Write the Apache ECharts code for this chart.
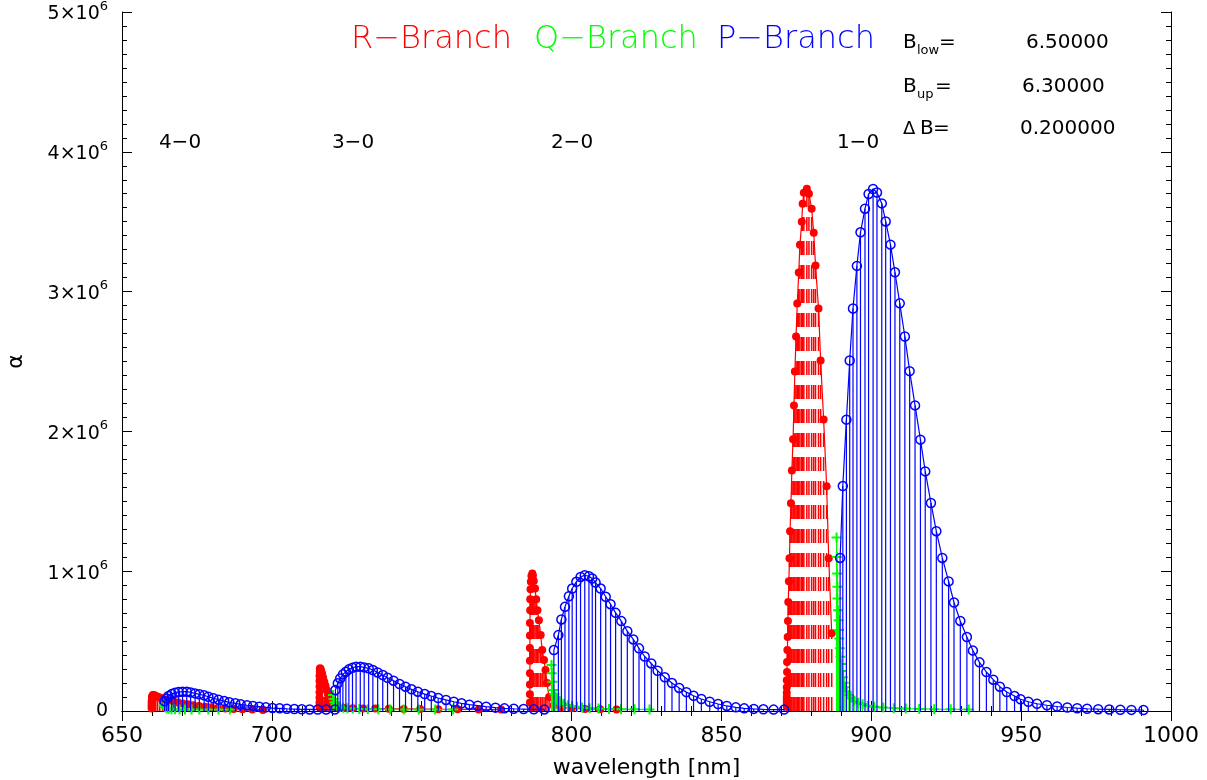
<!DOCTYPE html>
<html><head><meta charset="utf-8">
<script src="https://cdn.jsdelivr.net/npm/echarts@6/dist/echarts.min.js"></script>
<style>html,body{margin:0;padding:0;background:#fff}#c{width:1207px;height:780px}</style>
</head><body><div id="c"></div>
<script>
// wavelength in nm, intensity alpha in units of 10^6
// ---- 1-0 band ----
const P10_x=[889.6,890.5,891.7,892.8,893.9,895.2,896.4,897.9,899.1,900.6,901.9,903.5,904.8,906.4,907.9,909.5,911.2,912.8,914.6,916.4,918.0,919.9,921.7,923.7,925.8,927.6,929.7,931.9,933.9,936.1,938.4,940.7,942.9,945.2,947.8,949.8,952.4,955.3,958.6,962.0,965.4,968.7,972.0,975.7,979.4,983.1,986.8,990.8];
const P10_y=[1.095,1.609,2.084,2.507,2.879,3.184,3.424,3.593,3.698,3.734,3.709,3.631,3.502,3.336,3.138,2.916,2.679,2.431,2.186,1.941,1.714,1.488,1.286,1.095,0.927,0.776,0.644,0.529,0.432,0.348,0.279,0.224,0.174,0.136,0.107,0.084,0.066,0.052,0.041,0.032,0.025,0.020,0.016,0.013,0.011,0.009,0.008,0.007];
const R10_x=[886.8,885.8,885.1,884.1,883.1,882.4,881.4,880.8,880.1,879.2,878.5,877.5,877.1,876.8,876.2,875.8,875.3,874.9,874.5,874.2,873.9,873.5,873.2,872.9,872.7,872.5,872.3,872.2,872.1,872.0,871.9,871.9,871.8,871.8,871.8,871.8,871.8,871.8,871.8];
const R10_y=[0.557,1.093,1.607,2.086,2.507,2.879,3.186,3.421,3.593,3.700,3.736,3.707,3.629,3.500,3.336,3.136,2.914,2.679,2.429,2.186,1.943,1.721,1.486,1.286,1.093,0.929,0.779,0.643,0.529,0.436,0.350,0.279,0.220,0.170,0.130,0.100,0.080,0.060,0.030];
const Q10_x=[888.4,888.5,888.6,888.7,888.7,888.9,889.1,889.2,889.3,889.5,889.7,889.9,890.1,890.5,890.8,891.2,891.8,892.5,893.2,894.3,895.7,897.1,898.8,901.0,904.0,907.5,911.5,916.0,921.0,926.5,932.5];
const Q10_y=[1.241,1.102,0.983,0.888,0.805,0.721,0.650,0.579,0.519,0.448,0.388,0.336,0.286,0.241,0.202,0.169,0.138,0.114,0.095,0.074,0.059,0.048,0.038,0.031,0.025,0.020,0.017,0.015,0.013,0.012,0.011];
// ---- 2-0 band ----
const P20_x=[794.1,795.6,796.6,797.8,799.1,800.2,801.6,803.0,804.4,805.8,806.9,808.0,809.7,811.4,813.0,814.7,816.6,818.6,820.6,822.5,824.4,826.6,828.7,831.1,833.5,835.9,838.3,840.7,843.3,846.1,848.9,851.8,854.8,857.6,860.8,864.0,867.4,870.9];
const P20_y=[0.436,0.543,0.655,0.745,0.821,0.876,0.924,0.959,0.971,0.964,0.948,0.919,0.876,0.817,0.764,0.702,0.643,0.571,0.512,0.448,0.390,0.340,0.288,0.241,0.200,0.165,0.135,0.109,0.086,0.066,0.050,0.036,0.026,0.019,0.015,0.012,0.010,0.010];
const R20_x=[815.0,809.5,804.5,800.0,796.5,794.0,792.5,791.8,791.3,790.8,790.2,789.7,789.1,788.6,788.2,787.8,787.4,787.1,786.9,786.6,786.4,786.3,786.2,786.2,786.1,786.1,786.1,786.1,786.1,786.1,786.1,786.1];
const R20_y=[0.010,0.012,0.015,0.019,0.025,0.040,0.100,0.200,0.293,0.364,0.436,0.543,0.650,0.721,0.800,0.876,0.930,0.970,0.983,0.965,0.925,0.870,0.800,0.720,0.630,0.540,0.450,0.360,0.270,0.190,0.120,0.060];
const Q20_x=[793.3,793.4,793.6,793.9,794.3,794.7,795.2,795.8,796.6,797.5,798.8,800.2,801.8,803.5,806.0,809.0,812.5,816.5,821.0,826.0];
const Q20_y=[0.329,0.270,0.210,0.150,0.120,0.100,0.080,0.066,0.057,0.050,0.042,0.036,0.030,0.025,0.020,0.017,0.015,0.013,0.012,0.011];
// ---- 3-0 band ----
const P30_x=[721.2,722.0,722.8,723.7,724.7,725.7,726.9,728.1,729.5,730.8,732.3,733.7,735.3,737.0,738.6,740.6,742.6,744.6,746.6,748.7,751.0,753.2,755.5,758.1,760.7,763.3,765.9,768.7,771.5,774.6,777.6,780.7,784.0,787.4,790.9];
const P30_y=[0.150,0.198,0.233,0.262,0.281,0.298,0.309,0.317,0.317,0.312,0.305,0.293,0.276,0.257,0.238,0.217,0.193,0.174,0.155,0.138,0.121,0.107,0.093,0.079,0.066,0.055,0.045,0.038,0.031,0.024,0.019,0.016,0.014,0.012,0.011];
const R30_x=[776.5,769.0,762.0,755.5,749.5,744.0,739.0,734.5,730.5,727.0,724.0,722.0,720.5,719.6,719.1,718.7,718.3,717.9,717.5,717.1,716.8,716.5,716.3,716.1,716.0,716.0,715.9,715.9,715.9,715.9,715.9,715.9,715.9];
const R30_y=[0.010,0.011,0.012,0.013,0.014,0.015,0.016,0.017,0.018,0.019,0.021,0.024,0.035,0.060,0.090,0.120,0.150,0.180,0.210,0.240,0.265,0.285,0.298,0.305,0.300,0.280,0.250,0.215,0.175,0.135,0.095,0.060,0.030];
const Q30_x=[720.4,720.6,720.9,721.3,721.9,722.7,723.8,725.2,727.0,729.2,732.0,735.5,739.5,744.0,749.0,754.5,760.5];
const Q30_y=[0.114,0.085,0.062,0.046,0.036,0.029,0.024,0.020,0.017,0.015,0.013,0.012,0.011,0.010,0.010,0.010,0.010];
// ---- 4-0 band ----
const P40_x=[664.2,664.9,665.5,666.6,667.7,668.9,670.2,671.6,672.9,674.4,675.8,677.4,678.8,680.5,682.2,684.1,685.8,687.8,689.6,691.7,693.7,695.8,698.0,700.2,702.6,705.0,707.5,710.0,712.6,715.3,718.1,721.0];
const P40_y=[0.070,0.090,0.107,0.121,0.131,0.136,0.138,0.138,0.133,0.126,0.119,0.112,0.102,0.091,0.081,0.071,0.062,0.055,0.048,0.041,0.036,0.031,0.026,0.021,0.019,0.016,0.014,0.012,0.011,0.010,0.010,0.010];
const R40_x=[697.0,693.5,690.2,687.2,684.5,682.0,679.8,677.7,675.7,673.8,672.0,670.3,668.7,667.2,665.8,664.6,663.5,662.6,661.9,661.3,660.8,660.5,660.3,660.1,660.0,660.0,659.9,659.9,659.9,659.9,659.9];
const R40_y=[0.008,0.010,0.012,0.015,0.018,0.022,0.026,0.031,0.036,0.042,0.048,0.054,0.061,0.068,0.075,0.082,0.089,0.096,0.102,0.108,0.112,0.115,0.114,0.108,0.098,0.085,0.071,0.057,0.043,0.030,0.018];
const Q40_x=[663.9,664.1,664.4,664.9,665.6,666.5,667.7,669.2,671.0,673.2,675.8,678.8,682.2,686.0];
const Q40_y=[0.045,0.034,0.026,0.020,0.016,0.013,0.012,0.011,0.010,0.010,0.010,0.010,0.010,0.010];

const bandLabels=['4\u22120','3\u22120','2\u22120','1\u22120'];
const xTicks={min:650,max:1000,step:50};
const yTicks={min:0,max:5,step:1};

const RED='#ff0000', GREEN='#00ff00', BLUE='#0000ff';
const FF="'DejaVu Sans', sans-serif";
const W='normal';
const zip=(xs,ys)=>xs.map((x,i)=>[x,ys[i]]);
const plusPath='path://M4,0h2v4h4v2h-4v4h-2v-4h-4v-2h4z';

function sticks(data,color,width,dash,z){
  return {type:'custom',data:data,z:z,clip:true,silent:true,
    renderItem:function(p,api){
      const x=api.value(0),y=api.value(1);
      const a=api.coord([x,0]),b=api.coord([x,y]);
      return {type:'line',shape:{x1:a[0],y1:a[1],x2:b[0],y2:b[1]},
        style:{stroke:color,lineWidth:width,lineDash:dash||null}};
    }};
}
function lineS(data,color,symbol,size,filled,z){
  return {type:'line',data:data,z:z,symbol:symbol,symbolSize:size,showSymbol:true,
    clip:true,silent:true,lineStyle:{color:color,width:1.2},
    itemStyle:filled?{color:color}:{color:'rgba(0,0,0,0)',borderColor:color,borderWidth:1.5}};
}
const bands=[
  {P:zip(P40_x,P40_y),R:zip(R40_x,R40_y),Q:zip(Q40_x,Q40_y)},
  {P:zip(P30_x,P30_y),R:zip(R30_x,R30_y),Q:zip(Q30_x,Q30_y)},
  {P:zip(P20_x,P20_y),R:zip(R20_x,R20_y),Q:zip(Q20_x,Q20_y)},
  {P:zip(P10_x,P10_y),R:zip(R10_x,R10_y),Q:zip(Q10_x,Q10_y)}
];
const series=[];
bands.forEach(b=>{
  series.push(sticks(b.R,RED,1.5,[14,10],2));
  series.push(lineS(b.R,RED,'circle',8,true,3));
  series.push(sticks(b.Q,GREEN,1,null,4));
  series.push({type:'line',data:b.Q,z:5,symbol:plusPath,symbolSize:10,clip:true,silent:true,
    lineStyle:{color:GREEN,width:1.2},itemStyle:{color:GREEN}});
  series.push(sticks(b.P,BLUE,1.2,null,6));
  series.push(lineS(b.P,BLUE,'circle',9,false,7));
});

const axisCommon={type:'value',splitLine:{show:false},
  axisLine:{show:true,lineStyle:{color:'#000',width:1}},
  axisTick:{show:true,inside:true,length:10,lineStyle:{color:'#000'}},
  minorTick:{show:true,length:5,lineStyle:{color:'#000'}}};
const labelFont={color:'#000',fontFamily:FF,fontSize:20,fontWeight:W};

const gtext=(t,x,y,size,color,align,wt)=>({type:'text',x:x,y:y,silent:true,
  style:{text:t,fill:color||'#000',font:(wt||W)+' '+size+'px '+FF,textAlign:align||'left',textVerticalAlign:'middle'}});
const bandX=[180,353,572,858];
const graphics=[
  gtext('R\u2212Branch',351,40,32,RED,'left',300),
  gtext('Q\u2212Branch',534,40,32,GREEN,'left',300),
  gtext('P\u2212Branch',717,40,32,BLUE,'left',300),
  gtext('B',903,43,20),gtext('low',917,51,13),gtext('=',939,43,20),gtext('6.50000',1026,43,20),
  gtext('B',903,87,20),gtext('up',917,95,13),gtext('=',935,87,20),gtext('6.30000',1022,87,20),
  gtext('\u0394',903,129,18),gtext('B',920,129,20),gtext('=',933,129,20),gtext('0.200000',1020,129,20)
].concat(bandLabels.map((t,i)=>gtext(t,bandX[i],143,20,'#000','center')));

const chart=echarts.init(document.getElementById('c'),null,{renderer:'canvas'});
chart.setOption({
  animation:false,backgroundColor:'#fff',
  grid:{left:122,right:36,top:12,bottom:69,containLabel:false,outerBoundsMode:'none'},
  xAxis:[
    Object.assign({},axisCommon,{position:'bottom',min:xTicks.min,max:xTicks.max,interval:xTicks.step,
      minorTick:{show:true,splitNumber:5,length:5,lineStyle:{color:'#000'}},
      axisLabel:Object.assign({},labelFont,{margin:14,fontSize:22,formatter:v=>String(v)}),
      name:'wavelength [nm]',nameLocation:'middle',nameGap:46,
      nameTextStyle:{color:'#000',fontFamily:FF,fontSize:22,fontWeight:W}}),
    Object.assign({},axisCommon,{position:'top',min:xTicks.min,max:xTicks.max,interval:xTicks.step,
      minorTick:{show:true,splitNumber:5,length:5,lineStyle:{color:'#000'}},
      axisLabel:{show:false}})
  ],
  yAxis:[
    Object.assign({},axisCommon,{position:'left',min:yTicks.min,max:yTicks.max,interval:yTicks.step,
      minorTick:{show:true,splitNumber:10,length:5,lineStyle:{color:'#000'}},
      axisLabel:Object.assign({},labelFont,{margin:14,fontSize:19,
        formatter:v=>v===0?'0':'{m|'+v+'\u00d710}{s|6}',
        rich:{m:{fontSize:19,fontFamily:FF,color:'#000',lineHeight:24,verticalAlign:'bottom'},
              s:{fontSize:13,fontFamily:FF,color:'#000',lineHeight:24,verticalAlign:'top'}}}),
      name:'\u03b1',nameLocation:'middle',nameGap:95,nameRotate:90,
      nameTextStyle:{color:'#000',fontFamily:FF,fontSize:22,fontWeight:W}}),
    Object.assign({},axisCommon,{position:'right',min:yTicks.min,max:yTicks.max,interval:yTicks.step,
      minorTick:{show:true,splitNumber:10,length:5,lineStyle:{color:'#000'}},
      axisLabel:{show:false}})
  ],
  series:series,
  graphic:graphics
});
</script></body></html>
